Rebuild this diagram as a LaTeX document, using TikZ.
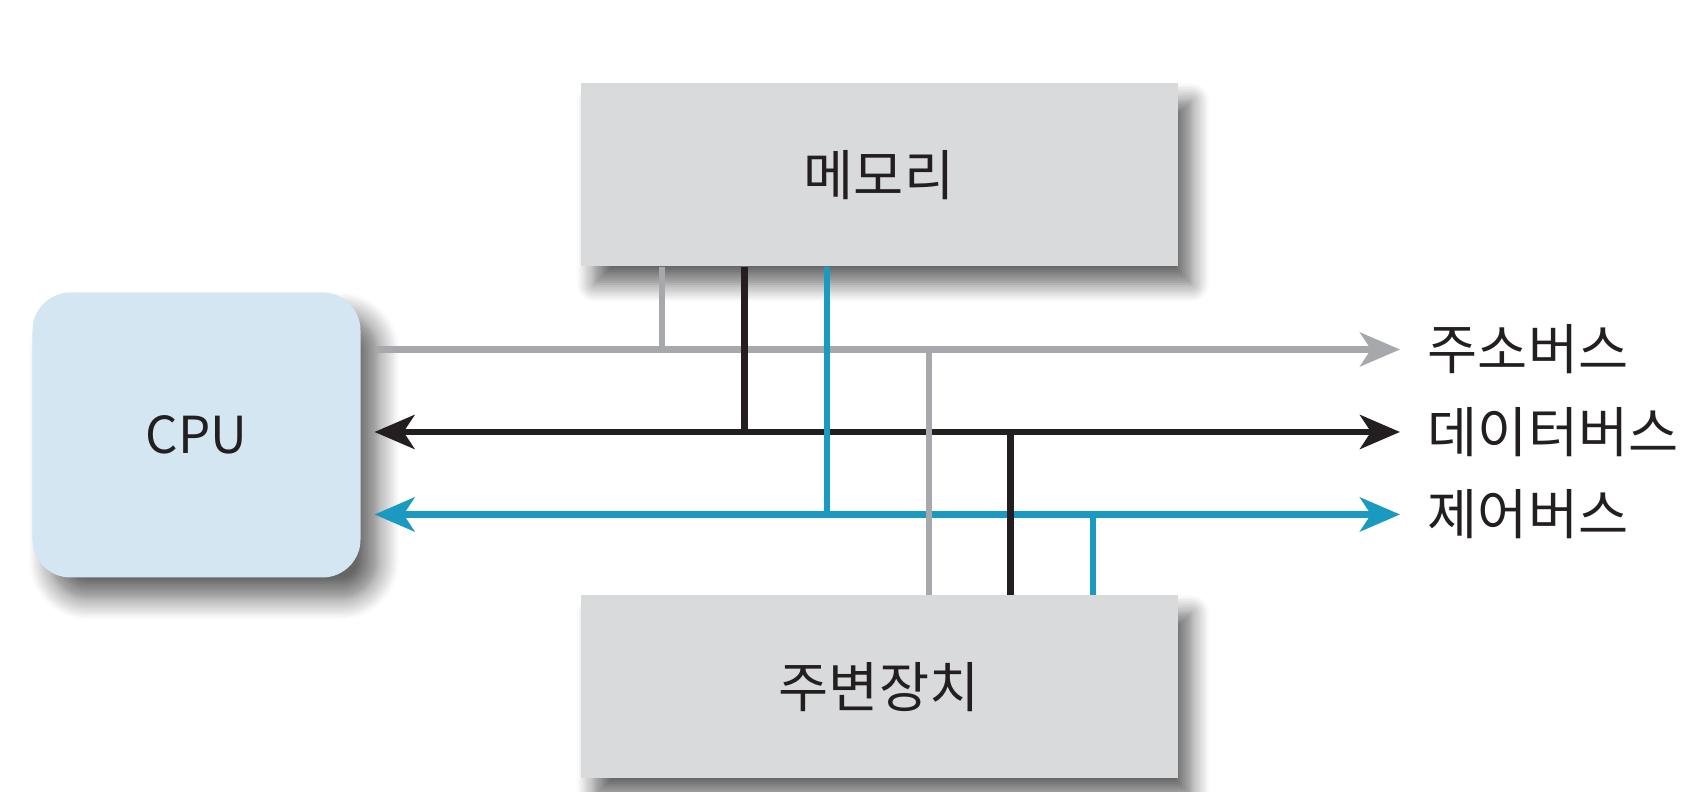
\documentclass[tikz,border=0pt]{standalone}
\usepackage{fontspec}
\setmainfont{Noto Sans CJK KR}
\usepackage{tikz}
\usetikzlibrary{arrows.meta,shadows.blur}
\definecolor{cgray}{HTML}{A7A8AB}
\definecolor{cdark}{HTML}{231F20}
\definecolor{cblue}{HTML}{1A9AC0}
\definecolor{cbox}{HTML}{D9DADC}
\definecolor{ccpu}{HTML}{D3E6F2}

\tikzset{
  every node/.style={font=\fontsize{15.5pt}{18pt}\selectfont, text=cdark},
  unit/.style={fill=cbox, minimum width=5.97cm, minimum height=1.83cm,
    blur shadow={shadow xshift=4pt, shadow yshift=-5pt, shadow blur radius=5pt,
      shadow blur steps=10, shadow opacity=60}},
  bus/.style={line width=1.8pt},
  buslabel/.style={right, inner xsep=7.7pt},
}

\begin{document}
\begin{tikzpicture}[>={Stealth[length=4mm,width=3.4mm,inset=1.1mm]}]
  \useasboundingbox (0,0) rectangle (17.02,7.92);
  % blocks
  \node[fill=ccpu, rounded corners=0.38cm, minimum width=3.28cm, minimum height=2.85cm,
    font=\fontsize{14.5pt}{17pt}\selectfont,
    blur shadow={shadow xshift=5pt, shadow yshift=-6pt, shadow blur radius=6pt,
      shadow blur steps=10, shadow opacity=60}] (cpu) at (1.965,3.57) {CPU};
  \node[unit] (mem) at (8.79,6.17) {메모리};
  \node[unit] (dev) at (8.79,1.05) {주변장치};
  % bus labels
  \node[buslabel] (la) at (14.0,4.425) {주소버스};
  \node[buslabel] (ld) at (14.0,3.60) {데이터버스};
  \node[buslabel] (lc) at (14.0,2.775) {제어버스};
  \coordinate (ca) at (3.745,4.425);
  \coordinate (cd) at (3.745,3.60);
  \coordinate (cc) at (3.745,2.775);
  % taps
  \coordinate (m1) at (6.62,4.425);
  \coordinate (m2) at (7.446,3.60);
  \coordinate (m3) at (8.27,2.775);
  \coordinate (d1) at (9.29,4.425);
  \coordinate (d2) at (10.106,3.60);
  \coordinate (d3) at (10.93,2.775);
  % buses
  \draw[bus,cgray,->] (ca) -- (la.west);
  \draw[bus,cblue,<->] (cc) -- (lc.west);
  \draw[bus,cdark,<->] (cd) -- (ld.west);
  \draw[bus,cgray] (m1) -- (m1 |- mem.south);
  \draw[bus,cdark] (m2) -- (m2 |- mem.south);
  \draw[bus,cblue] (m3) -- (m3 |- mem.south);
  \draw[bus,cgray] (d1) -- (d1 |- dev.north);
  \draw[bus,cdark] (d2) -- (d2 |- dev.north);
  \draw[bus,cblue] (d3) -- (d3 |- dev.north);
\end{tikzpicture}
\end{document}
